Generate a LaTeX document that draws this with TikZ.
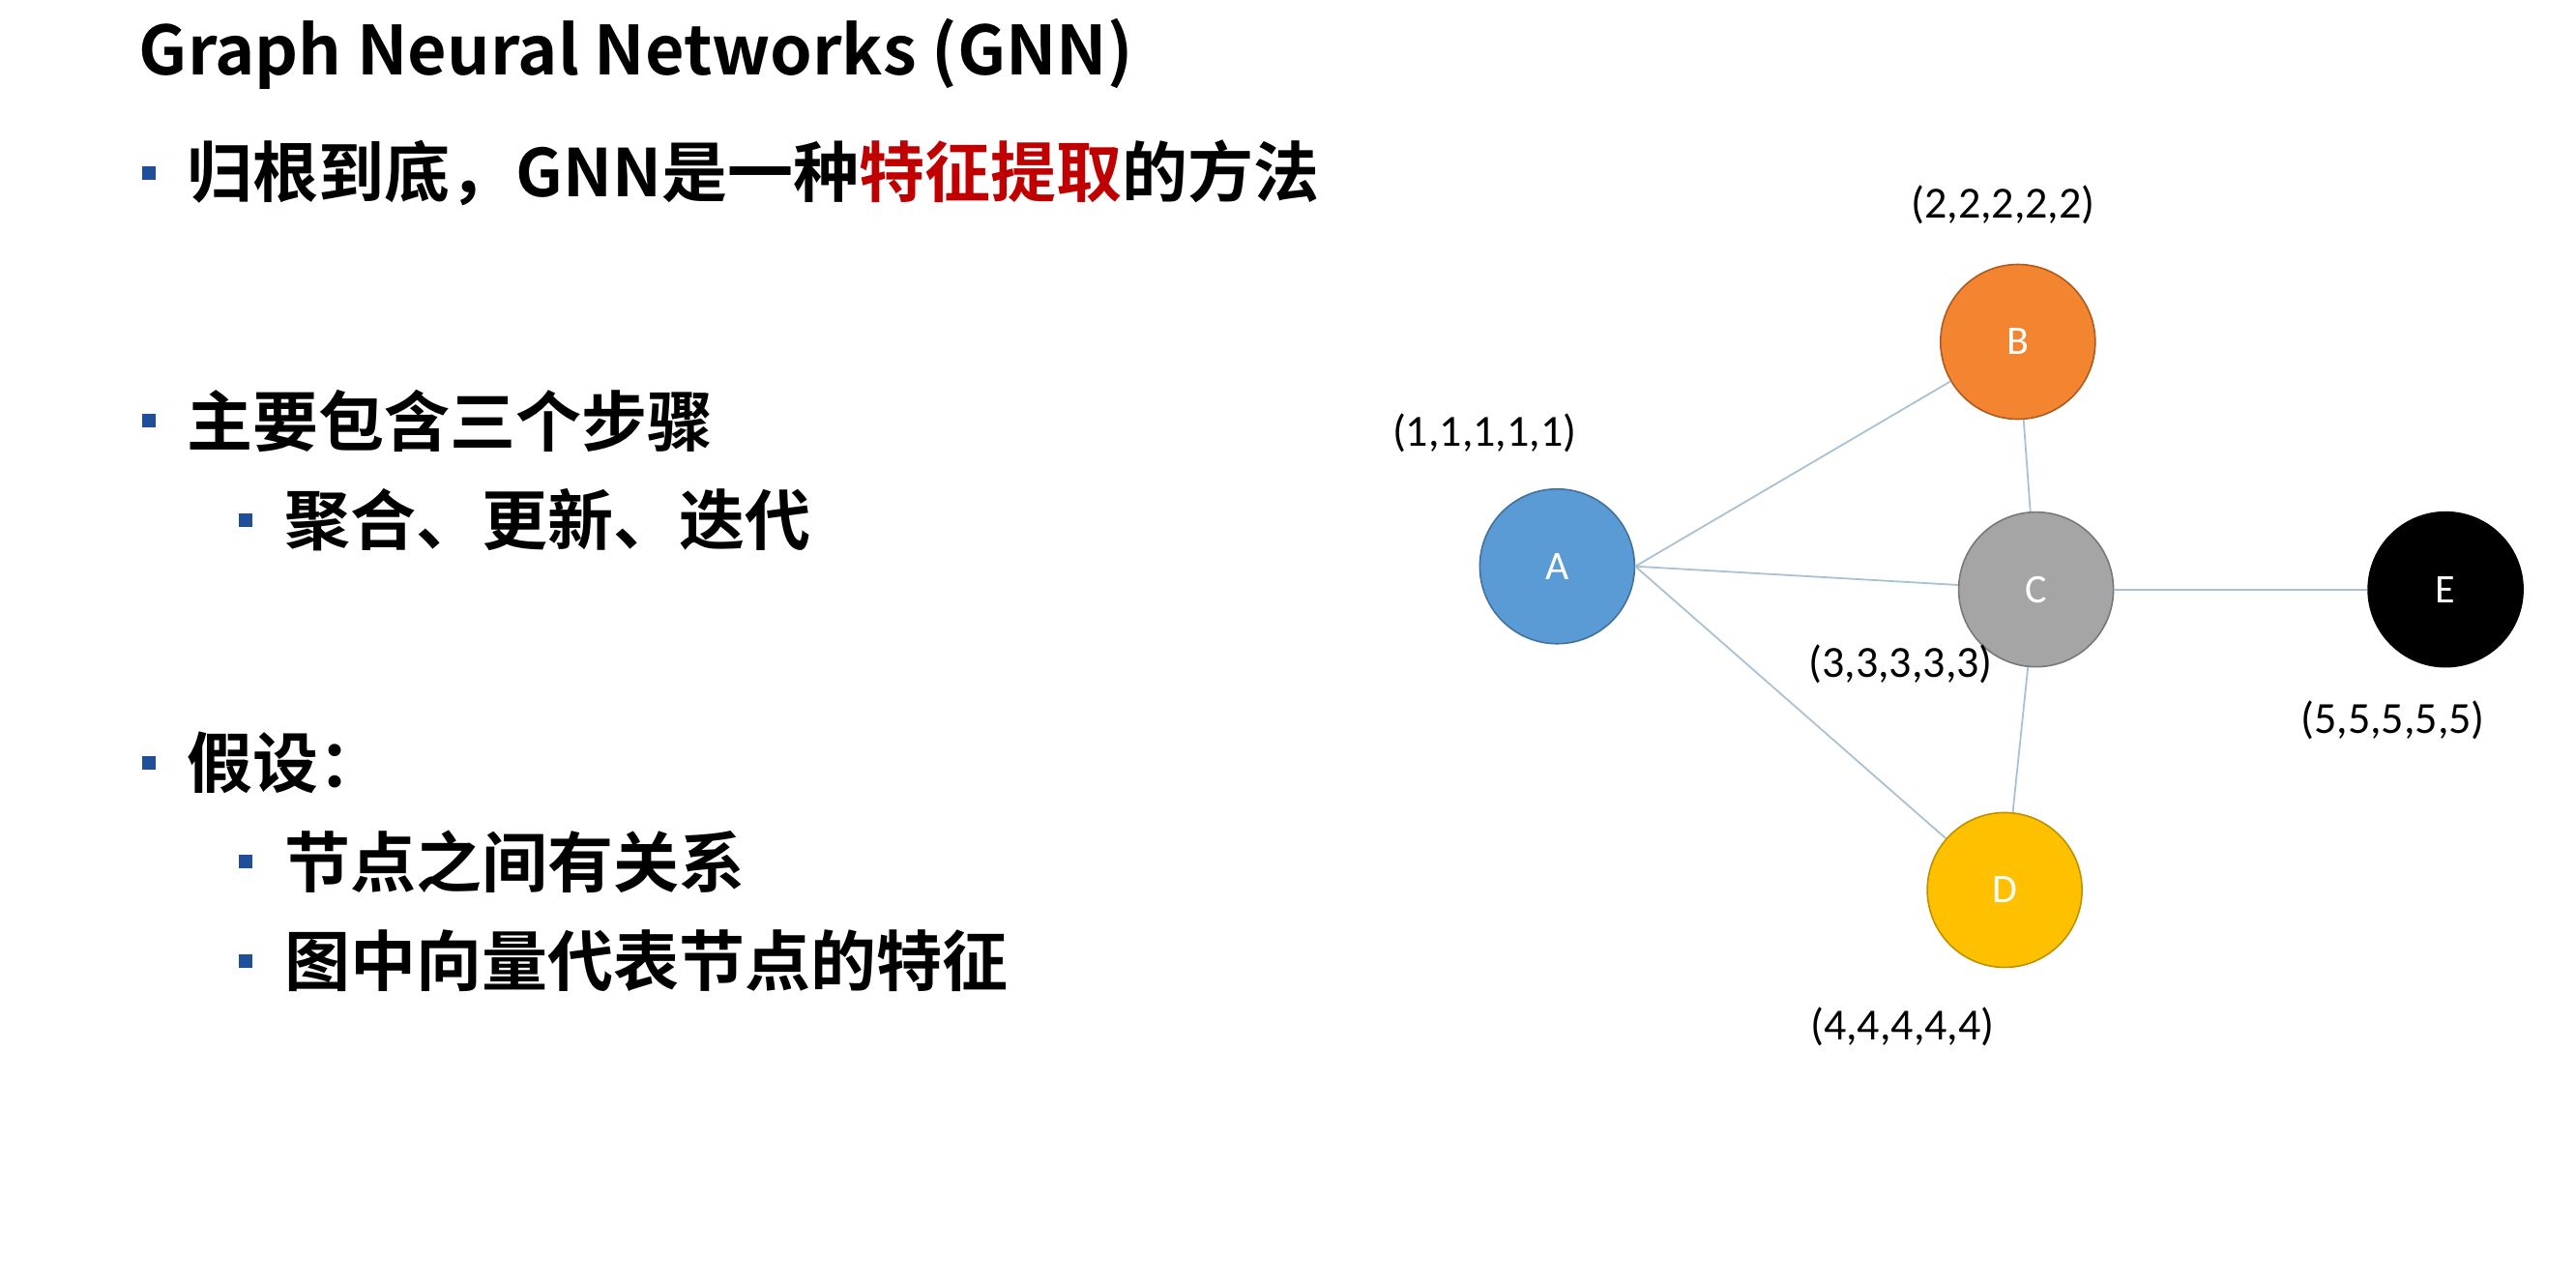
\documentclass[tikz,border=0pt]{standalone}
\usepackage{fontspec}
\setmainfont{Noto Sans CJK SC}
\newfontfamily\cjkb{Noto Sans CJK SC}[BoldFont={* Bold}]
\newfontfamily\lab{Carlito}
\definecolor{bul}{HTML}{1F4E9A}
\definecolor{redt}{HTML}{C00000}
\definecolor{edg}{HTML}{A9C1D4}
\begin{document}
\begin{tikzpicture}[x=0.8538pt,y=-0.8538pt,
  bt/.style={anchor=west,inner sep=0pt,font=\cjkb\bfseries\fontsize{34}{36}\selectfont},
  bl/.style={fill=bul,minimum size=7pt,inner sep=0pt},
  gn/.style={circle,minimum size=80pt,inner sep=0pt,line width=0.8pt,text=white,font=\lab\fontsize{21}{23}\selectfont},
  vl/.style={font=\lab\fontsize{23}{25}\selectfont,inner sep=0pt},
  ed/.style={edg,line width=0.9pt}]
\useasboundingbox (0,0) rectangle (1560,778);
\node[bt,font=\cjkb\bfseries\fontsize{35}{37}\selectfont] (title) at (84,33) {Graph Neural Networks (GNN)};
\node[bl] (b1) at (90,105) {}; \node[bt] (t1) at (113,105) {归根到底，GNN是一种\textcolor{redt}{特征提取}的方法};
\node[bl] (b2) at (90,255) {}; \node[bt] (t2) at (113,255) {主要包含三个步骤};
\node[bl] (b3) at (149,315) {}; \node[bt] (t3) at (172,315) {聚合、更新、迭代};
\node[bl] (b4) at (90,462) {}; \node[bt] (t4) at (113,462) {假设：};
\node[bl] (b5) at (149,522) {}; \node[bt] (t5) at (172,522) {节点之间有关系};
\node[bl] (b6) at (149,582) {}; \node[bt] (t6) at (172,582) {图中向量代表节点的特征};
\node[gn,fill={rgb,255:red,91;green,155;blue,213},draw={rgb,255:red,65;green,113;blue,156}] (A) at (943,343) {A};
\node[gn,fill={rgb,255:red,243;green,132;blue,48},draw={rgb,255:red,174;green,90;blue,33}] (B) at (1222,207) {B};
\node[gn,fill={rgb,255:red,165;green,165;blue,165},draw={rgb,255:red,120;green,120;blue,120}] (C) at (1233,357) {C};
\node[gn,fill=black,draw=black] (E) at (1481,357) {E};
\node[gn,fill={rgb,255:red,255;green,192;blue,0},draw={rgb,255:red,190;green,145;blue,0}] (D) at (1214,539) {D};
\draw[ed] (A.east) -- (B);
\draw[ed] (A.east) -- (C);
\draw[ed] (A.east) -- (D);
\draw[ed] (B) -- (C);
\draw[ed] (C) -- (E);
\draw[ed] (C) -- (D);
\node[vl] (la) at (899,262) {(1,1,1,1,1)};
\node[vl] (lb) at (1213,124) {(2,2,2,2,2)};
\node[vl] (lc) at (1151,402) {(3,3,3,3,3)};
\node[vl] (le) at (1449,436) {(5,5,5,5,5)};
\node[vl] (ld) at (1152,622) {(4,4,4,4,4)};
\end{tikzpicture}
\end{document}
